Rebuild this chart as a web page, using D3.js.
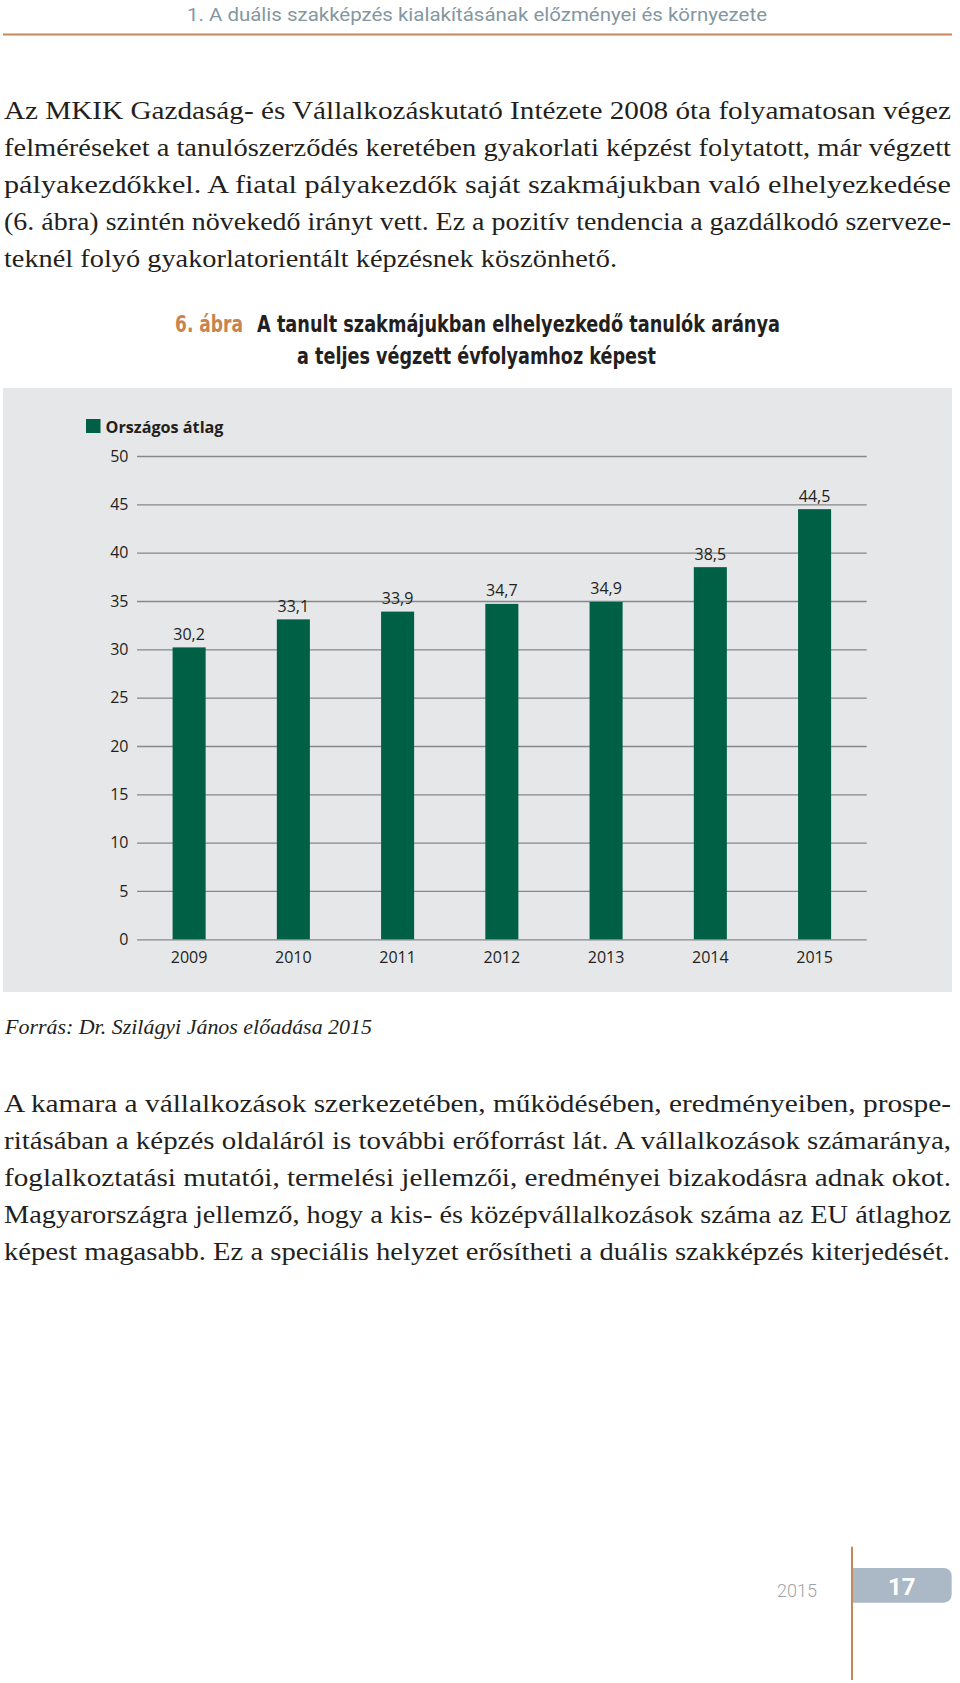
<!DOCTYPE html>
<html>
<head>
<meta charset="utf-8">
<script src="https://cdn.jsdelivr.net/npm/d3@7"></script>
<style>
  html, body { margin: 0; padding: 0; background: #fff; }
  svg { display: block; }
</style>
</head>
<body>
<div id="page"></div>
<script>
const years = ["2009", "2010", "2011", "2012", "2013", "2014", "2015"];
const values = [30.2, 33.1, 33.9, 34.7, 34.9, 38.5, 44.5];
const yTicks = [0, 5, 10, 15, 20, 25, 30, 35, 40, 45, 50];
const seriesName = "Országos átlag";

const headerText = "1. A duális szakképzés kialakításának előzményei és környezete";
const figNo = "6. ábra";
const titleLines = ["A tanult szakmájukban elhelyezkedő tanulók aránya", "a teljes végzett évfolyamhoz képest"];
const sourceText = "Forrás: Dr. Szilágyi János előadása 2015";
const para1 = [
  "Az MKIK Gazdaság- és Vállalkozáskutató Intézete 2008 óta folyamatosan végez",
  "felméréseket a tanulószerződés keretében gyakorlati képzést folytatott, már végzett",
  "pályakezdőkkel. A fiatal pályakezdők saját szakmájukban való elhelyezkedése",
  "(6. ábra) szintén növekedő irányt vett. Ez a pozitív tendencia a gazdálkodó szerveze-",
  "teknél folyó gyakorlatorientált képzésnek köszönhető."
];
const para2 = [
  "A kamara a vállalkozások szerkezetében, működésében, eredményeiben, prospe-",
  "ritásában a képzés oldaláról is további erőforrást lát. A vállalkozások számaránya,",
  "foglalkoztatási mutatói, termelési jellemzői, eredményei bizakodásra adnak okot.",
  "Magyarországra jellemző, hogy a kis- és középvállalkozások száma az EU átlaghoz",
  "képest magasabb. Ez a speciális helyzet erősítheti a duális szakképzés kiterjedését."
];
const pageYear = "2015";
const pageNo = "17";

const W = 960, H = 1683;
const green = "#006046";
const orange = "#c8875a";
const serif = "'Liberation Serif', 'DejaVu Serif', serif";
const sans = "'Open Sans', 'Noto Sans', sans-serif";
const cond = "'DejaVu Sans Condensed', 'DejaVu Sans', sans-serif";

const hu = d3.formatLocale({decimal: ",", thousands: " ", grouping: [3], currency: ["", " Ft"]});
const fmt = hu.format(".1f");

const svg = d3.select("#page").append("svg")
  .attr("width", W)
  .attr("height", H);

// running header
svg.append("text")
  .attr("x", 187).attr("y", 21)
  .attr("textLength", 580).attr("lengthAdjust", "spacingAndGlyphs")
  .style("font-family", "Roboto, sans-serif").style("font-size", "18.5px")
  .style("fill", "#8497a1")
  .text(headerText);
svg.append("line")
  .attr("x1", 3).attr("x2", 952).attr("y1", 34.5).attr("y2", 34.5)
  .attr("stroke", orange).attr("stroke-width", 2.2);

// body text, one line per row, justified to the measured width
function paragraph(lines, top, lastWidth) {
  svg.append("g").selectAll("text")
    .data(lines)
    .join("text")
    .attr("x", 4)
    .attr("y", (d, i) => top + i * 37.1)
    .attr("textLength", (d, i) => i === lines.length - 1 ? lastWidth : 947)
    .attr("lengthAdjust", "spacingAndGlyphs")
    .style("font-family", serif).style("font-size", "26px").style("fill", "#231f20")
    .text(d => d);
}
paragraph(para1, 118.5, 613);
paragraph(para2, 1111.5, 946);

// figure title
const title = svg.append("g").style("font-family", cond).style("font-weight", "bold")
  .style("font-size", "23px");
title.append("text").attr("x", 175).attr("y", 331.5)
  .attr("textLength", 68).attr("lengthAdjust", "spacingAndGlyphs")
  .style("fill", "#c8844e").text(figNo);
title.append("text").attr("x", 257).attr("y", 331.5)
  .attr("textLength", 523).attr("lengthAdjust", "spacingAndGlyphs")
  .style("fill", "#231f20").text(titleLines[0]);
title.append("text").attr("x", 297).attr("y", 363.5)
  .attr("textLength", 359).attr("lengthAdjust", "spacingAndGlyphs")
  .style("fill", "#231f20").text(titleLines[1]);

// chart panel
svg.append("rect")
  .attr("x", 3).attr("y", 388).attr("width", 949).attr("height", 604)
  .attr("fill", "#e6e7e8");

const x = d3.scaleBand()
  .domain(years)
  .range([137, 866.7])
  .paddingInner(0.683)
  .paddingOuter(0.3415);

const y = d3.scaleLinear()
  .domain([0, 50])
  .range([939.3, 456]);

const yAxis = svg.append("g")
  .attr("transform", `translate(${x.range()[0]},0)`)
  .call(d3.axisLeft(y)
    .tickValues(yTicks)
    .tickSize(-(x.range()[1] - x.range()[0]))
    .tickPadding(8.5)
    .tickFormat(d3.format("d")));
yAxis.select(".domain").remove();
yAxis.selectAll(".tick line").attr("stroke", "#858789").attr("stroke-width", 1.3);
yAxis.selectAll(".tick text")
  .style("font-family", sans).style("font-size", "16px").style("fill", "#231f20");

svg.append("g")
  .selectAll("rect")
  .data(values)
  .join("rect")
  .attr("x", (d, i) => x(years[i]))
  .attr("y", d => y(d))
  .attr("width", x.bandwidth())
  .attr("height", d => y(0) - y(d))
  .attr("fill", green);

svg.append("g")
  .selectAll("text")
  .data(values)
  .join("text")
  .attr("x", (d, i) => x(years[i]) + x.bandwidth() / 2)
  .attr("y", d => y(d) - 7.5)
  .attr("text-anchor", "middle")
  .style("font-family", sans).style("font-size", "16px").style("fill", "#231f20")
  .text(d => fmt(d));

const xAxis = svg.append("g")
  .attr("transform", `translate(0,${y(0)})`)
  .call(d3.axisBottom(x).tickSize(0).tickPadding(12));
xAxis.select(".domain").remove();
xAxis.selectAll(".tick text")
  .style("font-family", sans).style("font-size", "16px").style("fill", "#231f20");

// legend
const legend = svg.append("g");
legend.append("rect")
  .attr("x", 86).attr("y", 419).attr("width", 14.5).attr("height", 14)
  .attr("fill", green);
legend.append("text")
  .attr("x", 105.5).attr("y", 432.5)
  .attr("textLength", 118).attr("lengthAdjust", "spacingAndGlyphs")
  .style("font-family", sans).style("font-weight", "bold").style("font-size", "16px")
  .style("fill", "#231f20")
  .text(seriesName);

// source
svg.append("text")
  .attr("x", 5).attr("y", 1034)
  .attr("textLength", 367).attr("lengthAdjust", "spacingAndGlyphs")
  .style("font-family", serif).style("font-style", "italic").style("font-size", "22px")
  .style("fill", "#231f20")
  .text(sourceText);

// page footer
svg.append("text")
  .attr("x", 777).attr("y", 1597)
  .attr("textLength", 40).attr("lengthAdjust", "spacingAndGlyphs")
  .style("font-family", "Roboto, sans-serif").style("font-weight", 300).style("font-size", "19px")
  .style("fill", "#9ea3a8")
  .text(pageYear);
svg.append("path")
  .attr("d", "M852,1568 H943.7 A8,8 0 0 1 951.7,1576 V1594.7 A8,8 0 0 1 943.7,1602.7 H852 Z")
  .attr("fill", "#aab9c5");
svg.append("line")
  .attr("x1", 852).attr("x2", 852).attr("y1", 1546.7).attr("y2", 1680)
  .attr("stroke", orange).attr("stroke-width", 2);
svg.append("text")
  .attr("x", 901.7).attr("y", 1594.5)
  .attr("text-anchor", "middle")
  .style("font-family", "Roboto, sans-serif").style("font-weight", "bold").style("font-size", "24px")
  .style("fill", "#fff")
  .text(pageNo);
</script>
</body>
</html>
